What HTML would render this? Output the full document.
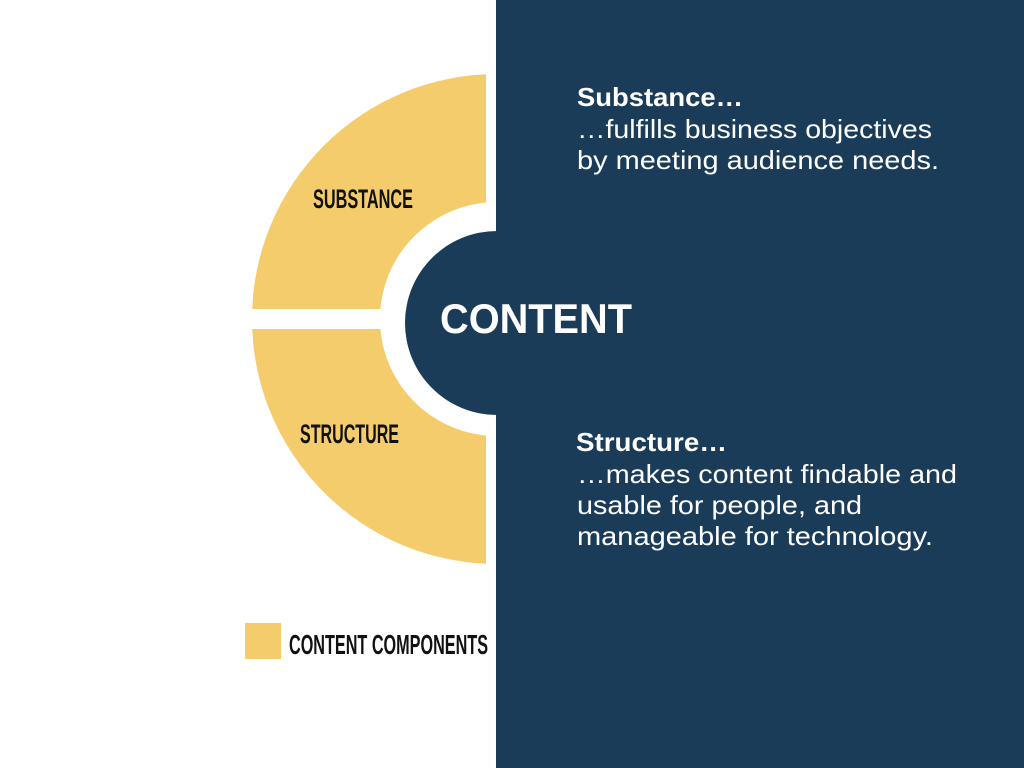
<!DOCTYPE html>
<html><head><meta charset="utf-8"><style>
html,body{margin:0;padding:0;background:#fff;}
svg{display:block;}
.c{font-family:"Liberation Sans Narrow","Liberation Sans",sans-serif;font-weight:bold;fill:#111;}
.w{font-family:"Liberation Sans",sans-serif;fill:#fff;}
</style></head><body>
<svg width="1024" height="768" viewBox="0 0 1024 768" xmlns="http://www.w3.org/2000/svg">
<rect x="0" y="0" width="1024" height="768" fill="#fff"/>
<rect x="496" y="0" width="528" height="768" fill="#1b3c58"/>
<defs><clipPath id="cl"><rect x="0" y="0" width="486" height="768"/></clipPath></defs>
<g clip-path="url(#cl)">
<path d="M497,74 A245,245 0 0 0 497,564 L497,436 A117,117 0 0 1 497,202 Z" fill="#f4cc6b" fill-rule="evenodd"/>
</g>
<rect x="240" y="309" width="260" height="20" fill="#fff"/>
<circle cx="497" cy="323" r="92" fill="#1b3c58"/>
<text class="w" x="440" y="333" font-size="42" font-weight="bold" textLength="192" lengthAdjust="spacingAndGlyphs">CONTENT</text>
<text class="c" x="313" y="208" font-size="27" textLength="100" lengthAdjust="spacingAndGlyphs">SUBSTANCE</text>
<text class="c" x="300" y="443" font-size="27" textLength="99" lengthAdjust="spacingAndGlyphs">STRUCTURE</text>
<rect x="245" y="623" width="36" height="36" fill="#f4cc6b"/>
<text class="c" x="289" y="654" font-size="28" textLength="199" lengthAdjust="spacingAndGlyphs">CONTENT COMPONENTS</text>
<text class="w" x="577" y="106" font-size="26" font-weight="bold" textLength="166" lengthAdjust="spacingAndGlyphs">Substance…</text>
<text class="w" x="577" y="138" font-size="26" textLength="355" lengthAdjust="spacingAndGlyphs">…fulfills business objectives</text>
<text class="w" x="577" y="169" font-size="26" textLength="362" lengthAdjust="spacingAndGlyphs">by meeting audience needs.</text>
<text class="w" x="576" y="451" font-size="26" font-weight="bold" textLength="151" lengthAdjust="spacingAndGlyphs">Structure…</text>
<text class="w" x="577" y="483" font-size="26" textLength="380" lengthAdjust="spacingAndGlyphs">…makes content findable and</text>
<text class="w" x="577" y="514" font-size="26" textLength="285" lengthAdjust="spacingAndGlyphs">usable for people, and</text>
<text class="w" x="577" y="545" font-size="26" textLength="356" lengthAdjust="spacingAndGlyphs">manageable for technology.</text>
</svg>
</body></html>
